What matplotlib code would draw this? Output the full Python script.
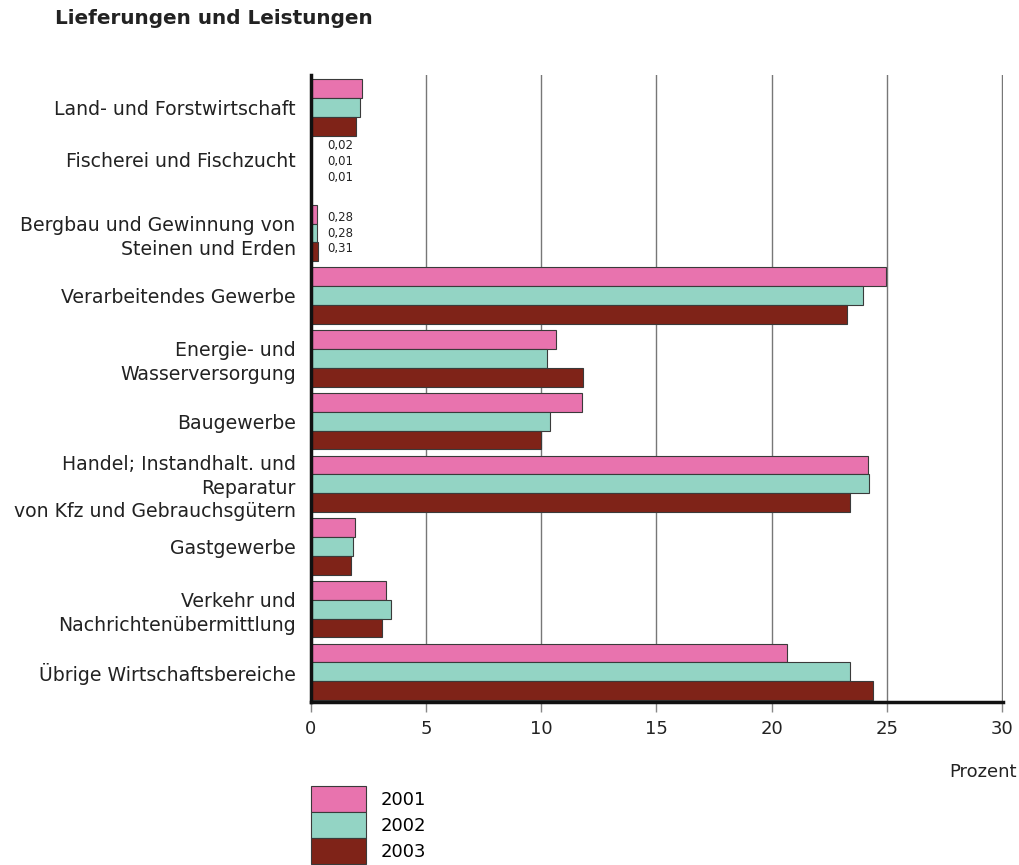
import numpy as np
import matplotlib
matplotlib.use("Agg")
import matplotlib.pyplot as plt
from matplotlib.transforms import offset_copy

plt.rcParams['font.family'] = ['DejaVu Sans']

# Kategorien (Wirtschaftsbereiche)
categories = [
    "Land- und Forstwirtschaft",
    "Fischerei und Fischzucht",
    "Bergbau und Gewinnung von\nSteinen und Erden",
    "Verarbeitendes Gewerbe",
    "Energie- und\nWasserversorgung",
    "Baugewerbe",
    "Handel; Instandhalt. und\nReparatur\nvon Kfz und Gebrauchsgütern",
    "Gastgewerbe",
    "Verkehr und\nNachrichtenübermittlung",
    "Übrige Wirtschaftsbereiche",
]
years = ["2001", "2002", "2003"]

# Anteile in Prozent
v2001 = [2.21, 0.02, 0.28, 24.97, 10.62, 11.75, 24.19, 1.91, 3.25, 20.68]
v2002 = [2.12, 0.01, 0.28, 23.97, 10.23, 10.36, 24.23, 1.82, 3.47, 23.41]
v2003 = [1.95, 0.01, 0.31, 23.28, 11.79, 9.97, 23.41, 1.73, 3.08, 24.40]

# kleine Werte, die als Text beschriftet werden
small_labels = {1: ["0,02", "0,01", "0,01"], 2: ["0,28", "0,28", "0,31"]}

colors = ["#E873AE", "#93D4C4", "#7F2318"]

fig = plt.figure(figsize=(10.2, 8.65), dpi=100)
ax = fig.add_axes([311 / 1020, 1 - 702 / 865, (1003 - 311) / 1020, (702 - 75) / 865])

y = np.arange(len(categories))
h = 0.3
for i, (vals, col, yr) in enumerate(zip([v2001, v2002, v2003], colors, years)):
    ax.barh(y + (i - 1) * h, vals, height=h, color=col, edgecolor="#3a3a3a",
            linewidth=0.8, label=yr, zorder=3)

# Beschriftung der kleinen Werte
for idx, labs in small_labels.items():
    shift = -0.14 if idx == 1 else 0.0
    for i, lab in enumerate(labs):
        ax.text(0.7, idx + shift + (i - 1) * 0.25, lab, fontsize=8.5,
                va="center", ha="left", color="#222222")

ax.set_xlim(0, 30.05)
ax.set_ylim(len(categories) - 0.52, -0.52)
ax.set_xticks(np.arange(0, 31, 5))
ax.set_yticks(y)
ax.set_yticklabels(categories, fontsize=13.6, color="#222222", linespacing=1.3,
                   ha="right")
ax.tick_params(axis="y", length=0, pad=11)
ax.tick_params(axis="x", length=7, width=1, color="#888888", labelsize=13,
               labelcolor="#222222", pad=6)

# Fischerei-Beschriftung etwas höher
lbl = ax.get_yticklabels()[1]
lbl.set_transform(offset_copy(lbl.get_transform(), fig=fig, y=11, units="dots"))

ax.grid(axis="x", color="#777777", linewidth=1.0, zorder=0)
for s in ["top", "right"]:
    ax.spines[s].set_visible(False)
for s in ["left", "bottom"]:
    ax.spines[s].set_linewidth(2.5)
    ax.spines[s].set_color("#111111")
    ax.spines[s].set_zorder(4)

fig.text(55 / 1020, 1 - 18 / 865, "Lieferungen und Leistungen", fontsize=14.4,
         fontweight="bold", va="center", ha="left", color="#222222")
fig.text(1017 / 1020, 1 - 772 / 865, "Prozent", fontsize=13, ha="right",
         va="center", color="#222222")

ax.legend(loc="upper left", bbox_to_anchor=(311 / 1020, 1 - 786 / 865),
          bbox_transform=fig.transFigure, frameon=False, fontsize=13,
          handlelength=3.05, handleheight=1.84, labelspacing=0.0,
          borderpad=0, borderaxespad=0, handletextpad=0.8)

fig.savefig("out.png", dpi=100)
